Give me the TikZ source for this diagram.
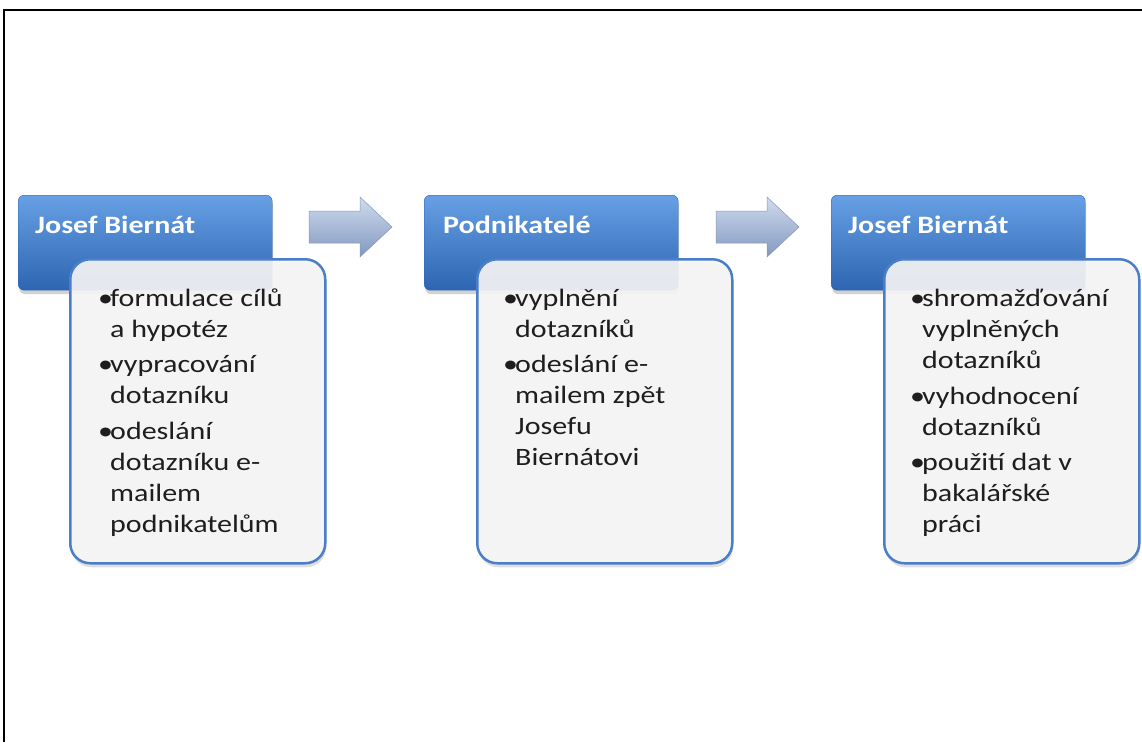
\documentclass[tikz,border=0pt]{standalone}
\usepackage{fontspec}
\setmainfont[FakeStretch=1.2]{Carlito}
\usetikzlibrary{shadows}
\definecolor{bluetop}{HTML}{67A0E4}
\definecolor{bluemid}{HTML}{3D7CCC}
\definecolor{bluebot}{HTML}{2D65B2}
\definecolor{boxline}{HTML}{4A7EC8}
\definecolor{boxfill}{HTML}{F7F7F7}
\definecolor{arrtop}{HTML}{D0DCEE}
\definecolor{arrbot}{HTML}{8298C0}
\definecolor{arrline}{HTML}{8799BB}
\definecolor{bodytext}{HTML}{1E1E1E}
\newcommand{\bul}{\makebox[12pt][l]{•}}
\newcommand{\ind}{\hspace*{12pt}}
\tikzset{
  bluebox/.style={rectangle, rounded corners=6pt, anchor=north west, inner sep=0pt,
    top color=bluetop, middle color=bluemid, bottom color=bluebot, draw=bluebot, line width=0.4pt,
    minimum width=254pt, minimum height=95pt,
    drop shadow={opacity=0.35, shadow xshift=1pt, shadow yshift=-4pt}},
  textbox/.style={rectangle, rounded corners=20pt, anchor=north west, inner sep=0pt,
    draw=boxline, line width=2.5pt, fill=boxfill, fill opacity=0.9,
    minimum width=255pt, minimum height=304pt,
    drop shadow={opacity=0.25, shadow xshift=1pt, shadow yshift=-4pt}},
  titletext/.style={anchor=base west, inner sep=0pt, text=white,
    font=\fontsize{25}{30}\selectfont\bfseries},
  bodynode/.style={anchor=north west, inner sep=0pt, align=left, text=bodytext,
    font=\fontsize{25}{31}\selectfont},
  blockarrow/.style={top color=arrtop, bottom color=arrbot, draw=arrline, line width=0.5pt, line join=miter}
}
\begin{document}
\begin{tikzpicture}[x=1pt,y=-1pt]
\useasboundingbox (0,0) rectangle (1142,742);
\fill[white] (0,0) rectangle (1142,742);
\draw[line width=2pt] (4,742) -- (4,10) -- (1142,10);

% group 1
\node[bluebox] (b1) at (18,195) {};
\node[textbox] (w1) at (69,258) {};
\node[titletext] (t1) at (35,233) {Josef Biernát};
\node[bodynode] (l1) at (98,284.3) {\strut\bul formulace cílů\\\ind a hypotéz\\[4.5pt]
\bul vypracování\\\ind dotazníku\\[4.5pt]
\bul odeslání\\\ind dotazníku e-\\\ind mailem\\\ind podnikatelům};

% group 2
\node[bluebox] (b2) at (424,195) {};
\node[textbox] (w2) at (476,258) {};
\node[titletext] (t2) at (443,233) {Podnikatelé};
\node[bodynode] (l2) at (503,284.3) {\strut\bul vyplnění\\\ind dotazníků\\[4.5pt]
\bul odeslání e-\\\ind mailem zpět\\\ind Josefu\\\ind Biernátovi};

% group 3
\node[bluebox] (b3) at (831,195) {};
\node[textbox] (w3) at (883,258) {};
\node[titletext] (t3) at (848,233) {Josef Biernát};
\node[bodynode] (l3) at (910,285) {\strut\bul shromažďování\\\ind vyplněných\\\ind dotazníků\\[4.5pt]
\bul vyhodnocení\\\ind dotazníků\\[4.5pt]
\bul použití dat v\\\ind bakalářské\\\ind práci};

% arrows
\draw[blockarrow] (309,211) -- (360,211) -- (360,197) -- (392,227) -- (360,257) -- (360,243) -- (309,243) -- cycle;
\draw[blockarrow] (716,211) -- (767,211) -- (767,197) -- (799,227) -- (767,257) -- (767,243) -- (716,243) -- cycle;
\end{tikzpicture}
\end{document}
